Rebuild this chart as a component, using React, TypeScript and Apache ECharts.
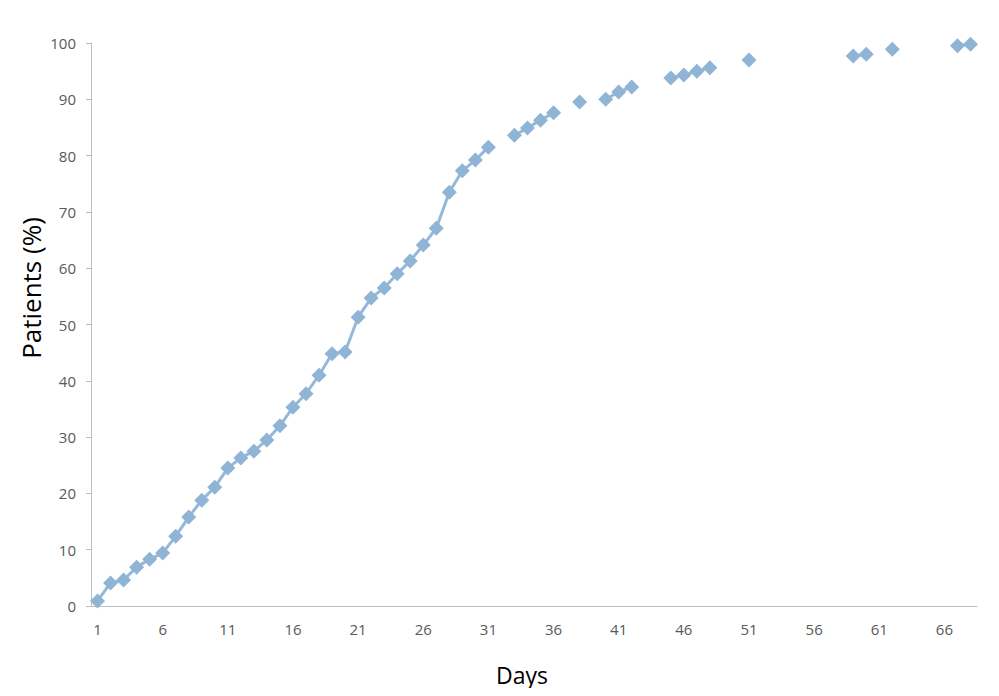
import React, { useEffect, useRef } from "react";
import * as echarts from "echarts";

const days: string[] = Array.from({ length: 68 }, (_, i) => String(i + 1));

const patients: (number | null)[] = [
  0.9, 4.1, 4.6, 6.9, 8.3, 9.4, 12.4, 15.8, 18.8, 21.1,
  24.5, 26.3, 27.5, 29.5, 32.0, 35.3, 37.7, 41.0, 44.8, 45.1,
  51.3, 54.7, 56.5, 59.0, 61.3, 64.1, 67.1, 73.5, 77.3, 79.2,
  81.5, null, 83.6, 84.9, 86.3, 87.6, null, 89.5, null, 90.0,
  91.3, 92.2, null, null, 93.8, 94.3, 95.0, 95.6, null, null,
  97.0, null, null, null, null, null, null, null, 97.7, 98.0,
  null, 98.9, null, null, null, null, 99.5, 99.8,
];

const xTitle = "Days";
const yTitle = "Patients (%)";

export default function App() {
  const ref = useRef<HTMLDivElement>(null);
  useEffect(() => {
    if (!ref.current) return;
    const chart = echarts.init(ref.current, undefined, { renderer: "svg" });
    chart.setOption({
      animation: false,
      backgroundColor: "#ffffff",
      grid: { left: 91, right: 22, top: 43, bottom: 90 },
      graphic: [
        {
          type: "text",
          x: 522,
          y: 675,
          style: {
            text: xTitle,
            fontFamily: "Open Sans",
            fontSize: 23,
            fill: "#000",
            align: "center",
            verticalAlign: "middle",
          },
        },
        {
          type: "text",
          x: 31,
          y: 288,
          rotation: Math.PI / 2,
          style: {
            text: yTitle,
            fontFamily: "Open Sans",
            fontSize: 26,
            fill: "#000",
            align: "center",
            verticalAlign: "middle",
          },
        },
      ],
      xAxis: {
        type: "category",
        data: days,
        boundaryGap: true,
        axisLine: { lineStyle: { color: "#bfbfbf", width: 1 } },
        axisTick: { interval: 4, length: 5, lineStyle: { color: "#bfbfbf" } },
        axisLabel: {
          interval: 4,
          fontFamily: "Open Sans",
          fontSize: 15,
          color: "#595959",
          margin: 15,
        },
        splitLine: { show: false },
      },
      yAxis: {
        type: "value",
        min: 0,
        max: 100,
        interval: 10,
        axisLine: { show: true, lineStyle: { color: "#bfbfbf", width: 1 } },
        axisTick: { show: true, length: 5, lineStyle: { color: "#bfbfbf" } },
        axisLabel: {
          fontFamily: "Open Sans",
          fontSize: 15,
          color: "#595959",
          margin: 15,
        },
        splitLine: { show: false },
      },
      series: [
        {
          type: "line",
          data: patients,
          connectNulls: false,
          showAllSymbol: true,
          symbol: "diamond",
          symbolSize: 15,
          lineStyle: { color: "#95b8d9", width: 3 },
          itemStyle: { color: "#8fb4d6" },
        },
      ],
    });
    return () => chart.dispose();
  }, []);
  return <div ref={ref} style={{ width: 999, height: 696, margin: -8 }} />;
}
